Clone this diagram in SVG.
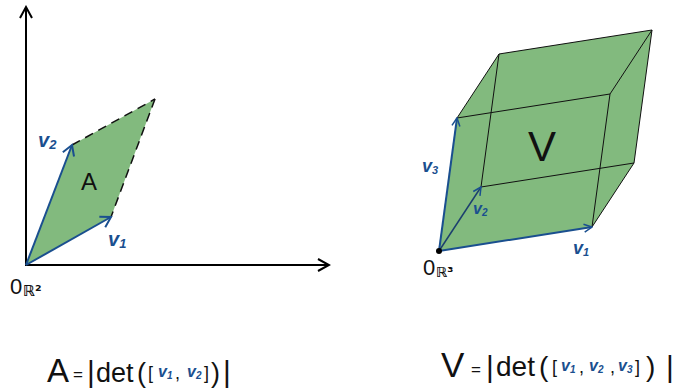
<svg xmlns="http://www.w3.org/2000/svg" width="675" height="389" viewBox="0 0 675 389">
<style>
.fill{fill:#82ba7e;stroke:none}
.edge{stroke:#111;stroke-width:1;fill:none}
.dash{stroke:#111;stroke-width:1.5;fill:none;stroke-dasharray:9 6}
.axis{stroke:#000;stroke-width:2;fill:none}
.vec{stroke:#1a4f8f;stroke-width:2;fill:none}
.vec2{stroke:#1c3f6e;stroke-width:1.5;fill:none}
.lbl{font-family:"Liberation Sans",Arial,sans-serif;fill:#111}
.blue{font-family:"Liberation Sans",Arial,sans-serif;fill:#1a4f8f;font-weight:bold;font-style:italic}
.sub{font-family:"DejaVu Sans",sans-serif;font-weight:bold;fill:#111}
</style>
<defs>
<marker id="ax" markerWidth="14" markerHeight="14" refX="12" refY="7" orient="auto" markerUnits="userSpaceOnUse">
<path d="M1,1 L12,7 L1,13" fill="none" stroke="#000" stroke-width="2"/>
</marker>
<marker id="va" markerWidth="14" markerHeight="14" refX="12" refY="7" orient="auto" markerUnits="userSpaceOnUse">
<path d="M2,1 L12,7 L2,13" fill="none" stroke="#1a4f8f" stroke-width="2"/>
</marker>
<marker id="vs" markerWidth="10" markerHeight="10" refX="9" refY="5" orient="auto" markerUnits="userSpaceOnUse">
<path d="M1,1 L9,5 L1,9" fill="none" stroke="#1a4f8f" stroke-width="1.5"/>
</marker>
</defs>

<g id="parallelogram">
<polygon class="fill" points="26,265 111,217 155,99 72,145"/>
</g>
<g id="parallelepiped">
<polygon class="fill" points="439,251 592,227 634,163 652,30 499,54 457,118"/>
</g>

<g id="connectors">
<line class="axis" x1="26" y1="266" x2="26" y2="7" marker-end="url(#ax)"/>
<line class="axis" x1="25" y1="265" x2="329" y2="265" marker-end="url(#ax)"/>
<line class="dash" x1="72" y1="145" x2="155" y2="99"/>
<line class="dash" x1="155" y1="99" x2="111" y2="217"/>
<line class="vec" x1="26" y1="265" x2="111" y2="217" marker-end="url(#va)"/>
<line class="vec" x1="26" y1="265" x2="72" y2="145" marker-end="url(#va)"/>

<path class="edge" d="M592,227 L634,163 L652,30 L499,54 L457,118 M481,187 L634,163 M481,187 L499,54 M457,118 L610,94 L592,227 M610,94 L652,30"/>
<line class="vec" x1="439" y1="251" x2="592" y2="227" marker-end="url(#vs)"/>
<line class="vec" x1="439" y1="251" x2="457" y2="118" marker-end="url(#vs)"/>
<line class="vec2" x1="439" y1="251" x2="481" y2="187" marker-end="url(#vs)"/>
<circle cx="439" cy="251" r="3" fill="#000"/>
</g>

<g id="labels-left">
<text class="blue" x="38" y="147" font-size="20">v<tspan font-size="13" dy="2">2</tspan></text>
<text class="lbl" x="81" y="190" font-size="24">A</text>
<text class="blue" x="108" y="246" font-size="20">v<tspan font-size="13" dy="2">1</tspan></text>
<text class="lbl" x="10" y="294" font-size="22">0</text>
<text class="sub" x="23" y="296" font-size="15">ℝ²</text>
</g>

<g id="labels-right">
<text class="lbl" x="528" y="161" font-size="42">V</text>
<text class="blue" x="422" y="172" font-size="18">v<tspan font-size="11" dy="2">3</tspan></text>
<text class="blue" x="473" y="214" font-size="16">v<tspan font-size="10" dy="2">2</tspan></text>
<text class="blue" x="573" y="254" font-size="18">v<tspan font-size="11" dy="2">1</tspan></text>
<text class="lbl" x="423" y="275" font-size="22">0</text>
<text class="sub" x="436" y="277" font-size="14">ℝ³</text>
</g>

<g id="formula-area">
<text class="lbl" x="47" y="382" font-size="33">A</text>
<text class="lbl" x="73" y="380" font-size="17">=</text>
<text class="lbl" x="87" y="382" font-size="30">|</text>
<text class="lbl" x="96" y="382" font-size="27">det</text>
<text class="lbl" x="137" y="382" font-size="27">(</text>
<text class="lbl" x="148" y="379" font-size="18">[</text>
<text class="blue" x="158" y="377" font-size="16">v<tspan font-size="10" dy="2">1</tspan></text>
<text class="lbl" x="175" y="379" font-size="18">,</text>
<text class="blue" x="187" y="377" font-size="16">v<tspan font-size="10" dy="2">2</tspan></text>
<text class="lbl" x="204" y="379" font-size="18">]</text>
<text class="lbl" x="211" y="382" font-size="27">)</text>
<text class="lbl" x="223" y="382" font-size="30">|</text>
</g>

<g id="formula-volume">
<text class="lbl" x="441" y="377" font-size="35">V</text>
<text class="lbl" x="471" y="375" font-size="17">=</text>
<text class="lbl" x="486" y="377" font-size="30">|</text>
<text class="lbl" x="496" y="376" font-size="28">det</text>
<text class="lbl" x="539" y="376" font-size="28">(</text>
<text class="lbl" x="552" y="373" font-size="18">[</text>
<text class="blue" x="561" y="371" font-size="16">v<tspan font-size="10" dy="2">1</tspan></text>
<text class="lbl" x="579" y="373" font-size="18">,</text>
<text class="blue" x="589" y="371" font-size="16">v<tspan font-size="10" dy="2">2</tspan></text>
<text class="lbl" x="610" y="373" font-size="18">,</text>
<text class="blue" x="618" y="371" font-size="16">v<tspan font-size="10" dy="2">3</tspan></text>
<text class="lbl" x="635" y="373" font-size="18">]</text>
<text class="lbl" x="646" y="376" font-size="28">)</text>
<text class="lbl" x="666" y="377" font-size="30">|</text>
</g>
</svg>
